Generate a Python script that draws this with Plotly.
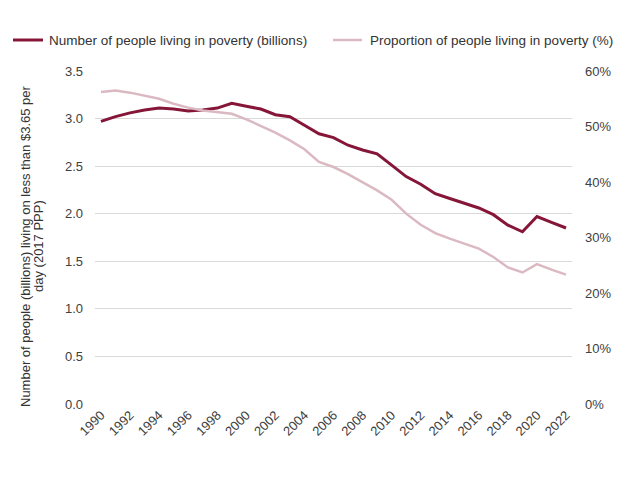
import plotly.graph_objects as go

# Global poverty at the $3.65/day line (2017 PPP), 1990-2022
years = list(range(1990, 2023))
people_billions = [
    2.97, 3.02, 3.06, 3.09, 3.11, 3.10, 3.08, 3.09, 3.11, 3.16,
    3.13, 3.10, 3.04, 3.02, 2.93, 2.84, 2.80, 2.72, 2.67, 2.63,
    2.51, 2.39, 2.31, 2.21, 2.16, 2.11, 2.06, 1.99, 1.88, 1.81,
    1.97, 1.91, 1.85,
]
share_percent = [
    56.2, 56.5, 56.1, 55.6, 55.0, 54.1, 53.4, 52.9, 52.6, 52.3,
    51.3, 50.1, 48.9, 47.5, 45.9, 43.6, 42.7, 41.4, 39.9, 38.5,
    36.8, 34.3, 32.3, 30.8, 29.8, 28.9, 28.0, 26.5, 24.6, 23.7,
    25.2, 24.2, 23.3,
]
series_names = [
    "Number of people living in poverty (billions)",
    "Proportion of people living in poverty (%)",
]
year_ticks = list(range(1990, 2023, 2))
left_ticks = [0, 0.5, 1.0, 1.5, 2.0, 2.5, 3.0, 3.5]
right_ticks = [0, 10, 20, 30, 40, 50, 60]
y_title_lines = [
    "Number of people (billions) living on less than $3.65 per",
    "day (2017 PPP)",
]

DARK = "#861638"
LIGHT = "#dbb9c2"
TEXT = "#404040"
FONT = "Liberation Sans, Arial, sans-serif"

W, H = 628, 492
M_L, M_R, M_T, M_B = 95, 56, 71, 88
PLOT_W = W - M_L - M_R
PLOT_H = H - M_T - M_B


def px_x(px):
    return (px - M_L) / PLOT_W


def px_y(py):
    return (H - M_B - py) / PLOT_H


fig = go.Figure()
fig.add_trace(go.Scatter(
    x=years, y=people_billions, mode="lines", name=series_names[0],
    line=dict(color=DARK, width=3), yaxis="y",
))
fig.add_trace(go.Scatter(
    x=years, y=share_percent, mode="lines", name=series_names[1],
    line=dict(color=LIGHT, width=2.5), yaxis="y2",
))

# Legend row across the top: swatch line + label for each series
legend_items = [(series_names[0], DARK, 3, 13, 43, 47),
                (series_names[1], LIGHT, 2.5, 333, 362, 368)]
for name, color, width, x0, x1, xt in legend_items:
    fig.add_shape(type="line", xref="paper", yref="paper",
                  x0=px_x(x0), x1=px_x(x1), y0=px_y(40), y1=px_y(40),
                  line=dict(color=color, width=width))
    fig.add_annotation(text=name, xref="paper", yref="paper",
                       x=px_x(xt), y=px_y(40), xanchor="left", yanchor="middle",
                       showarrow=False, font=dict(size=13.5, color="#333333"))

# Left axis title as two tightly spaced rotated lines
for line_text, xpos in zip(y_title_lines, [25, 38]):
    fig.add_annotation(
        text=line_text, textangle=-90,
        xref="paper", yref="paper", x=px_x(xpos), y=px_y(246),
        xanchor="center", yanchor="middle", showarrow=False,
        font=dict(size=13, color="#333333"),
    )

fig.update_layout(
    width=W, height=H,
    margin=dict(l=M_L, r=M_R, t=M_T, b=M_B),
    paper_bgcolor="white", plot_bgcolor="white",
    font=dict(family=FONT, size=12, color=TEXT),
    showlegend=False,
    xaxis=dict(
        range=[1989.59, 2022.41],
        tickvals=year_ticks, ticktext=[str(y) for y in year_ticks],
        tickangle=-45, showgrid=False, zeroline=False,
        showline=False, ticks="",
        tickfont=dict(size=13, color=TEXT),
    ),
    yaxis=dict(
        range=[0, 3.5],
        tickvals=left_ticks, ticktext=[f"{v:.1f}" for v in left_ticks],
        showgrid=True, gridcolor="#d9d9d9", gridwidth=1,
        zeroline=False, showline=False, ticks="",
        tickfont=dict(size=13, color=TEXT),
        ticklabelstandoff=11,
    ),
    yaxis2=dict(
        range=[0, 60], overlaying="y", side="right",
        tickvals=right_ticks, ticktext=[f"{v}%" for v in right_ticks],
        showgrid=False, zeroline=False, showline=False, ticks="",
        tickfont=dict(size=13, color=TEXT),
        ticklabelstandoff=12,
    ),
)

fig.write_html("out.html")
